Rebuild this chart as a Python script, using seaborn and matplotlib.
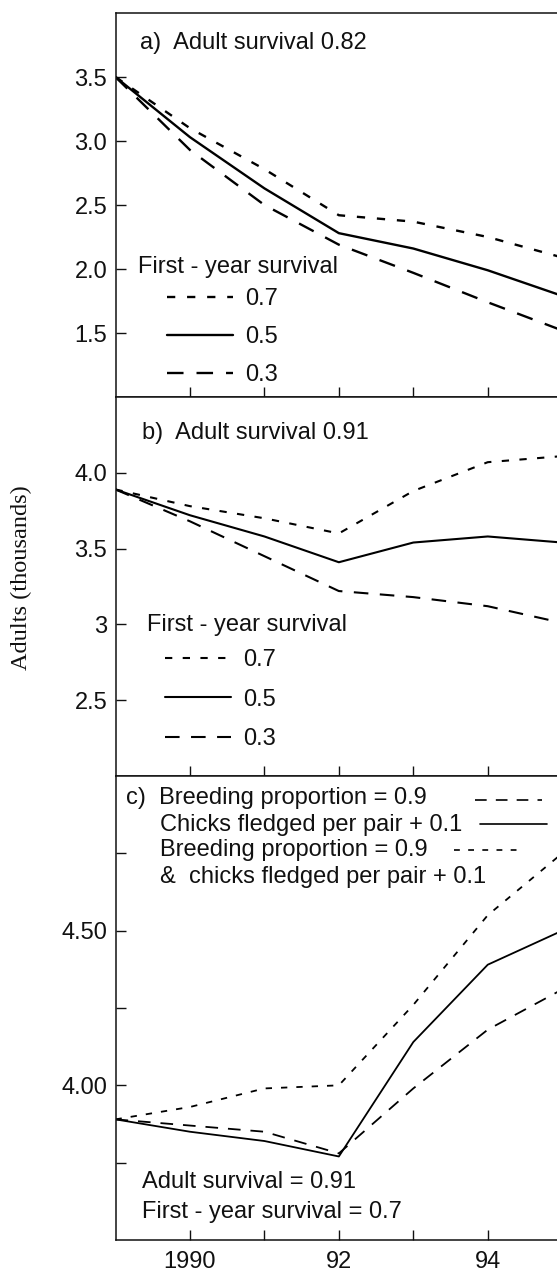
import matplotlib
matplotlib.use("Agg")
import matplotlib.pyplot as plt
from matplotlib.lines import Line2D
import seaborn as sns
import pandas as pd

# values (adults, thousands)
years = [1989, 1990, 1991, 1992, 1993, 1994, 1995]

# a) adult survival 0.82, by first-year survival
a_fy07 = [3.50, 3.10, 2.78, 2.42, 2.37, 2.25, 2.09]
a_fy05 = [3.50, 3.03, 2.63, 2.28, 2.16, 1.99, 1.79]
a_fy03 = [3.50, 2.93, 2.50, 2.19, 1.97, 1.74, 1.52]

# b) adult survival 0.91
b_fy07 = [3.89, 3.78, 3.70, 3.60, 3.88, 4.07, 4.11]
b_fy05 = [3.89, 3.72, 3.58, 3.41, 3.54, 3.58, 3.54]
b_fy03 = [3.89, 3.68, 3.45, 3.22, 3.18, 3.12, 3.01]

# c) scenarios, adult 0.91 / first-year 0.7
c_breed = [3.89, 3.87, 3.85, 3.78, 3.99, 4.18, 4.31]
c_chicks = [3.89, 3.85, 3.82, 3.77, 4.14, 4.39, 4.50]
c_both = [3.89, 3.93, 3.99, 4.00, 4.26, 4.55, 4.75]

fy_levels = ["0.7", "0.5", "0.3"]
c_levels = ["breed", "chicks", "both"]

xtick_vals = [1990, 1991, 1992, 1993, 1994]
xtick_labels = ["1990", "", "92", "", "94"]

def long_df(series):
    rows = []
    for name, vals in series.items():
        for yr, v in zip(years, vals):
            rows.append({"year": yr, "adults": v, "series": name})
    return pd.DataFrame(rows)

df_a = long_df({"0.7": a_fy07, "0.5": a_fy05, "0.3": a_fy03})
df_b = long_df({"0.7": b_fy07, "0.5": b_fy05, "0.3": b_fy03})
df_c = long_df({"breed": c_breed, "chicks": c_chicks, "both": c_both})

sns.set_style("ticks")
plt.rcParams["font.family"] = ["Liberation Sans", "DejaVu Sans"]
plt.rcParams["text.color"] = "#111111"
plt.rcParams["axes.edgecolor"] = "#111111"
plt.rcParams["xtick.color"] = "#111111"
plt.rcParams["ytick.color"] = "#111111"

FS = 17
DOT = (3.5, 5.0)
DASH = (7.0, 5.5)
fy_dashes = {"0.7": DOT, "0.5": "", "0.3": DASH}
c_dashes = {"breed": DASH, "chicks": "", "both": DOT}

W, H = 557, 1276
fig = plt.figure(figsize=(W / 100, H / 100), dpi=100)
left = 115.5 / W

def px_axes(top, bottom, sharex=None):
    return fig.add_axes([left, (H - bottom) / H, 1 - left, (bottom - top) / H], sharex=sharex)

ax_a = px_axes(13, 397)
ax_b = px_axes(397, 776, sharex=ax_a)
ax_c = px_axes(776, 1240, sharex=ax_a)

sns.lineplot(data=df_a, x="year", y="adults", style="series", style_order=fy_levels,
             dashes=fy_dashes, color="black", lw=1.7, legend=False, ax=ax_a)
sns.lineplot(data=df_b, x="year", y="adults", style="series", style_order=fy_levels,
             dashes=fy_dashes, color="black", lw=1.5, legend=False, ax=ax_b)
sns.lineplot(data=df_c, x="year", y="adults", style="series", style_order=c_levels,
             dashes=c_dashes, color="black", lw=1.3, legend=False, ax=ax_c)

ax_a.set_xlim(1989, 1994.93)
ax_a.set_ylim(1.0, 4.0)
ax_b.set_ylim(2.0, 4.5)
ax_c.set_ylim(3.5, 5.0)

ax_a.set_yticks([1.5, 2.0, 2.5, 3.0, 3.5])
ax_a.set_yticklabels(["1.5", "2.0", "2.5", "3.0", "3.5"])
ax_b.set_yticks([2.5, 3.0, 3.5, 4.0])
ax_b.set_yticklabels(["2.5", "3", "3.5", "4.0"])
ax_c.set_yticks([3.75, 4.0, 4.25, 4.5, 4.75])
ax_c.set_yticklabels(["", "4.00", "", "4.50", ""])

for ax in (ax_a, ax_b, ax_c):
    ax.set_xticks(xtick_vals)
    ax.set_xlabel("")
    ax.set_ylabel("")
    ax.spines["right"].set_visible(False)
    for s in ("left", "bottom", "top"):
        ax.spines[s].set_linewidth(1.1)
    ax.tick_params(axis="both", direction="in", length=7, width=1.0, labelsize=FS)
    ax.tick_params(axis="y", pad=6)
    ax.tick_params(axis="x", pad=8)
    ax.set_facecolor("white")

ax_a.tick_params(axis="x", labelbottom=False)
ax_b.tick_params(axis="x", labelbottom=False)
ax_c.set_xticklabels(xtick_labels)

def fy_legend(ax, lw, x, y, spacing):
    handles = [Line2D([], [], color="black", lw=lw, dashes=d if d else (None, None))
               for d in (DOT, None, DASH)]
    handles[1].set_linestyle("-")
    ax.legend(handles, fy_levels, loc="upper left", bbox_to_anchor=(x, y),
              frameon=False, fontsize=FS, handlelength=2.8, handletextpad=0.5,
              labelspacing=spacing, borderpad=0, borderaxespad=0)

# panel a annotations
ax_a.text(0.055, 0.922, "a)  Adult survival 0.82", transform=ax_a.transAxes,
          fontsize=FS, va="center")
ax_a.text(0.051, 0.3385, "First - year survival", transform=ax_a.transAxes,
          fontsize=FS, va="center")
fy_legend(ax_a, 1.7, 0.117, 0.284, 0.68)

# panel b annotations
ax_b.text(0.060, 0.905, "b)  Adult survival 0.91", transform=ax_b.transAxes,
          fontsize=FS, va="center")
ax_b.text(0.0716, 0.398, "First - year survival", transform=ax_b.transAxes,
          fontsize=FS, va="center")
fy_legend(ax_b, 1.5, 0.112, 0.335, 0.74)

# panel c annotations
c_rows = [("c)  Breeding proportion = 0.9", 126, 798),
          ("Chicks fledged per pair + 0.1", 160, 825),
          ("Breeding proportion = 0.9", 160, 850),
          ("&  chicks fledged per pair + 0.1", 160, 877)]
for txt, xp, yp in c_rows:
    ax_c.text((xp - 115.5) / (W - 115.5), (1240 - yp) / 464, txt,
              transform=ax_c.transAxes, fontsize=FS, va="center")

c_keys = [(DASH, 475, 542, 800), (None, 480, 547, 824), (DOT, 454, 520, 850)]
for d, x0, x1, yp in c_keys:
    key = Line2D([(x0 - 115.5) / (W - 115.5), (x1 - 115.5) / (W - 115.5)],
                 [(1240 - yp) / 464] * 2, transform=ax_c.transAxes,
                 color="black", lw=1.2)
    if d:
        key.set_dashes(d)
    ax_c.add_line(key)

ax_c.text((142 - 115.5) / (W - 115.5), (1240 - 1182) / 464, "Adult survival = 0.91",
          transform=ax_c.transAxes, fontsize=FS, va="center")
ax_c.text((142 - 115.5) / (W - 115.5), (1240 - 1212) / 464, "First - year survival = 0.7",
          transform=ax_c.transAxes, fontsize=FS, va="center")

fig.text(21 / W, (H - 578) / H, "Adults (thousands)", rotation=90, va="center",
         ha="center", fontsize=17.5, family=["Liberation Serif", "DejaVu Serif"])

fig.savefig("out.png", dpi=100, facecolor="white")
